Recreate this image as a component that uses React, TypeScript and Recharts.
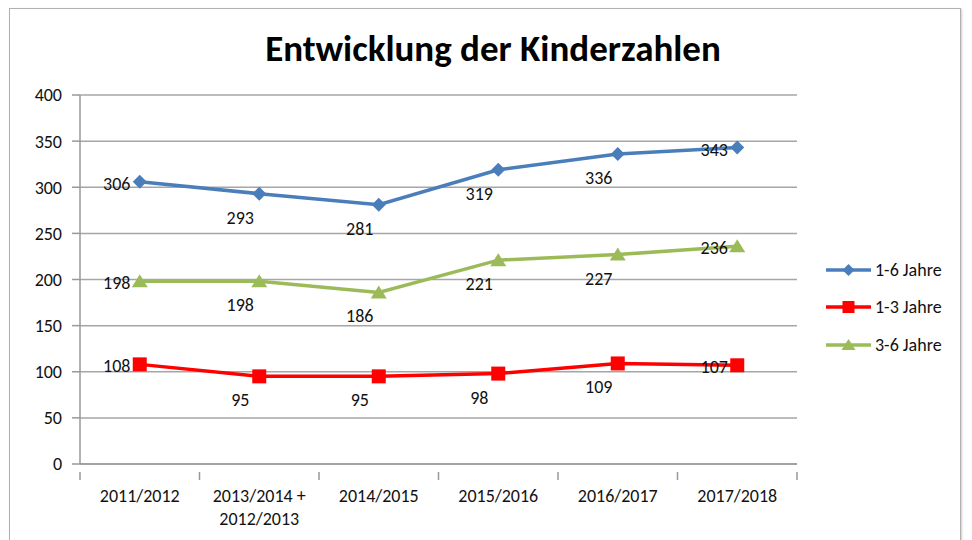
import { LineChart, Line, XAxis, YAxis, CartesianGrid } from "recharts"

const categories = ["2011/2012", "2013/2014 +\n2012/2013", "2014/2015", "2015/2016", "2016/2017", "2017/2018"]
const kids1to6 = [306, 293, 281, 319, 336, 343]
const kids1to3 = [108, 95, 95, 98, 109, 107]
const kids3to6 = [198, 198, 186, 221, 227, 236]
const yTicks = [0, 50, 100, 150, 200, 250, 300, 350, 400]

const series = [
  { key: "a", name: "1-6 Jahre", color: "#4a7ebb", shape: "diamond" },
  { key: "b", name: "1-3 Jahre", color: "#ff0000", shape: "square" },
  { key: "c", name: "3-6 Jahre", color: "#9bbb59", shape: "triangle" },
]

const data = categories.map((cat, i) => ({ cat, a: kids1to6[i], b: kids1to3[i], c: kids3to6[i] }))

const FONT = "Carlito, Lato, 'Open Sans', sans-serif"
const W = 972
const H = 540
const PLOT_LEFT = 80
const PLOT_RIGHT = 797
const BAND = (PLOT_RIGHT - PLOT_LEFT) / categories.length

function Marker({ cx, cy, shape, color, size = 7 }: any) {
  if (cx == null || cy == null) return null
  if (shape === "diamond")
    return <polygon points={`${cx},${cy - size} ${cx + size},${cy} ${cx},${cy + size} ${cx - size},${cy}`} fill={color} />
  if (shape === "square") return <rect x={cx - size} y={cy - size} width={size * 2} height={size * 2} fill={color} />
  return <polygon points={`${cx},${cy - size} ${cx + size + 1},${cy + size - 1} ${cx - size - 1},${cy + size - 1}`} fill={color} />
}

// Excel-style labels: first/last to the left, the rest below-left
function ValueLabel(props: any) {
  const { x, y, value, index } = props
  const edge = index === 0 || index === categories.length - 1
  const lx = edge ? x - 23 : x - 19
  const ly = edge ? y + 8 : y + 30
  return (
    <text x={lx} y={ly} textAnchor="middle" fontSize={18} fontFamily={FONT} fill="#111">
      {value}
    </text>
  )
}

function CatTick({ x, y, payload, index }: any) {
  const lines = String(payload.value).split("\n")
  return (
    <g>
      <line x1={x - BAND / 2} x2={x - BAND / 2} y1={y} y2={y + 8} stroke="#999" strokeWidth={1.5} />
      {index === categories.length - 1 && (
        <line x1={x + BAND / 2} x2={x + BAND / 2} y1={y} y2={y + 8} stroke="#999" strokeWidth={1.5} />
      )}
      {lines.map((l, i) => (
        <text key={i} x={x} y={y + 30 + i * 23} textAnchor="middle" fontSize={18} fontFamily={FONT} fill="#111">
          {l}
        </text>
      ))}
    </g>
  )
}

function LegendBox() {
  return (
    <div style={{ position: "absolute", left: 825, top: 251, fontFamily: FONT, fontSize: 18, color: "#111" }}>
      {series.map((s) => (
        <div key={s.key} style={{ display: "flex", alignItems: "center", height: 37.5 }}>
          <svg width={47} height={16}>
            <line x1={1} x2={46} y1={8} y2={8} stroke={s.color} strokeWidth={3.5} />
            <Marker cx={23.5} cy={8} shape={s.shape} color={s.color} size={6} />
          </svg>
          <span style={{ marginLeft: 3 }}>{s.name}</span>
        </div>
      ))}
    </div>
  )
}

export default function App() {
  return (
    <div style={{ position: "absolute", left: 0, top: 0, width: W, height: H, background: "#fff", overflow: "hidden" }}>
      <div
        style={{
          position: "absolute",
          left: 9,
          top: 8,
          width: 950,
          height: 560,
          border: "1.5px solid #b0b0b0",
          boxShadow: "1px 1px 2px #ccc",
        }}
      />
      <div
        style={{
          position: "absolute",
          left: 0,
          width: 986,
          top: 26,
          textAlign: "center",
          fontFamily: FONT,
          fontWeight: "bold",
          fontSize: 37,
          color: "#000",
        }}
      >
        Entwicklung der Kinderzahlen
      </div>
      <div style={{ position: "absolute", left: 0, top: 0 }}>
        <LineChart width={W} height={H} data={data} margin={{ top: 95, right: W - PLOT_RIGHT, left: 0, bottom: 16 }}>
          <CartesianGrid vertical={false} stroke="#a6a6a6" strokeWidth={1.5} />
          <XAxis
            dataKey="cat"
            interval={0}
            height={60}
            padding={{ left: BAND / 2, right: BAND / 2 }}
            tick={<CatTick />}
            tickLine={false}
            axisLine={{ stroke: "#999", strokeWidth: 1.5 }}
          />
          <YAxis
            width={PLOT_LEFT}
            domain={[0, 400]}
            ticks={yTicks}
            interval={0}
            tickLine={{ stroke: "#999", strokeWidth: 1.5 }}
            tickSize={8}
            axisLine={{ stroke: "#999", strokeWidth: 1.5 }}
            tick={{ fontSize: 18, fontFamily: FONT, fill: "#111" }}
            tickMargin={10}
          />
          {series.map((s) => (
            <Line
              key={s.key}
              dataKey={s.key}
              name={s.name}
              stroke={s.color}
              strokeWidth={3.5}
              isAnimationActive={false}
              dot={(p: any) => <Marker key={p.index} cx={p.cx} cy={p.cy} shape={s.shape} color={s.color} />}
              activeDot={false}
              label={<ValueLabel />}
            />
          ))}
        </LineChart>
      </div>
      <LegendBox />
    </div>
  )
}
